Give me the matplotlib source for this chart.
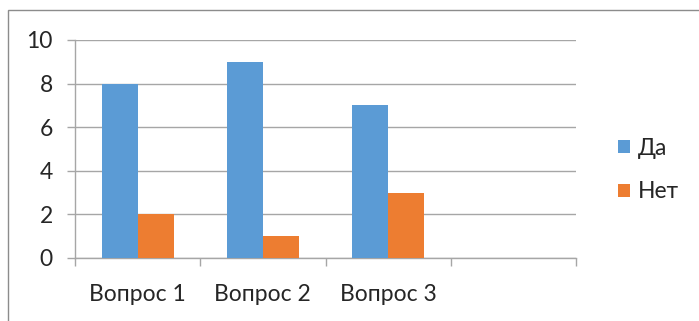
import matplotlib
matplotlib.use("Agg")
import matplotlib.pyplot as plt
from matplotlib.patches import Rectangle
import numpy as np

categories = ["Вопрос 1", "Вопрос 2", "Вопрос 3", ""]
yes_values = [8, 9, 7, None]
no_values = [2, 1, 3, None]
series_names = ["Да", "Нет"]
y_ticks = [0, 2, 4, 6, 8, 10]

BLUE = "#5B9BD5"
ORANGE = "#ED7D31"
GRID = "#A6A6A6"
TEXT = "#262626"

plt.rcParams["font.family"] = ["Lato", "DejaVu Sans"]

W, H = 699, 321
fig = plt.figure(figsize=(W / 100, H / 100), dpi=100)

# chart area border
fig.patches.append(Rectangle((8 / W, -0.1), 1.2, (H - 10) / H + 0.1,
                             transform=fig.transFigure, fill=False,
                             edgecolor="#8C8C8C", linewidth=1.0))

ax = fig.add_axes([75 / W, 63 / H, (576 - 75) / W, (258 - 40) / H])

x = np.arange(len(categories))
bw = 0.287
yes = [v if v is not None else 0 for v in yes_values]
no = [v if v is not None else 0 for v in no_values]
ax.bar(x - bw / 2, yes, width=bw, color=BLUE, label=series_names[0], zorder=3)
ax.bar(x + bw / 2, no, width=bw, color=ORANGE, label=series_names[1], zorder=3)

ax.set_xlim(-0.5, len(categories) - 0.5)
ax.set_ylim(0, 10)
ax.set_yticks(y_ticks)
ax.set_yticklabels([str(t) for t in y_ticks])
ax.yaxis.grid(True, color=GRID, linewidth=1.0, zorder=0)

ax.set_xticks(x)
ax.set_xticklabels(categories)
ax.set_xticks(np.arange(len(categories) + 1) - 0.5, minor=True)
ax.tick_params(axis="x", which="major", length=0, pad=19, labelsize=16.5, labelcolor=TEXT)
ax.tick_params(axis="x", which="minor", length=6, width=1.0, color=GRID, direction="out")
ax.tick_params(axis="y", length=6, width=1.0, color=GRID, direction="out",
               labelsize=16.5, labelcolor=TEXT, pad=10)

for s in ["top", "right"]:
    ax.spines[s].set_visible(False)
ax.spines["left"].set_color(GRID)
ax.spines["bottom"].set_color(GRID)
ax.spines["left"].set_linewidth(1.0)
ax.spines["bottom"].set_linewidth(1.0)
ax.set_facecolor("none")

leg = fig.legend(loc="center left", bbox_to_anchor=(609 / W, 1 - 170 / H),
                 frameon=False, fontsize=16.5, handlelength=0.5, handleheight=0.5,
                 handletextpad=0.35, labelspacing=1.0, borderaxespad=0)
for t in leg.get_texts():
    t.set_color(TEXT)

fig.savefig("out.png", dpi=100)
